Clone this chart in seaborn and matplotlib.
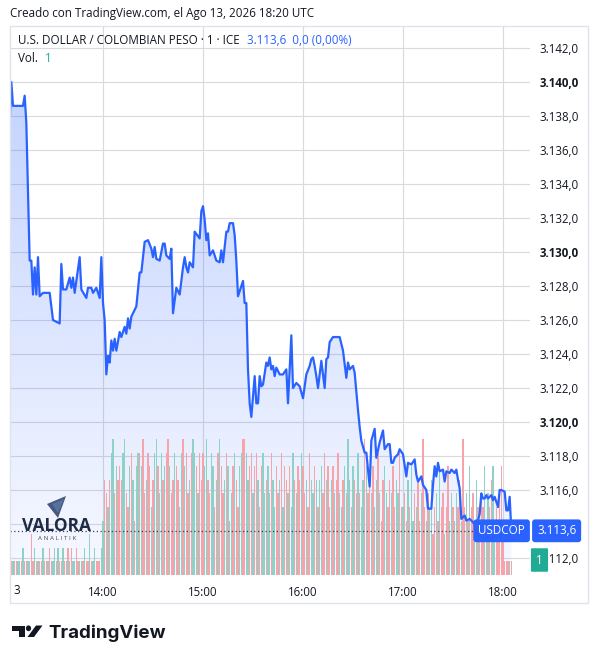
import numpy as np
import pandas as pd
import matplotlib
matplotlib.use("Agg")
import matplotlib.pyplot as plt
import matplotlib.transforms as mtransforms
from matplotlib.patches import Rectangle, Polygon, Circle, PathPatch
from matplotlib.colors import LinearSegmentedColormap
import seaborn as sns

# ---------------------------------------------------------
# data (1-minute USDCOP, 13 Aug)
# ---------------------------------------------------------
times_13 = ["13:04", "13:05", "13:06", "13:12", "13:13", "13:14", "13:16", "13:17", "13:18", "13:19",
            "13:20", "13:21", "13:22", "13:24", "13:28", "13:30", "13:34", "13:35", "13:36", "13:38",
            "13:40", "13:41", "13:42", "13:43", "13:46", "13:47", "13:50", "13:51", "13:53", "13:54",
            "13:56", "13:58", "13:59"]
price_13 = [3137.5, 3140.0, 3138.6, 3138.6, 3139.2, 3137.6, 3129.5, 3129.5, 3127.5, 3129.1,
            3127.5, 3129.7, 3127.4, 3127.6, 3127.6, 3126.0, 3125.8, 3129.3, 3127.8, 3127.8,
            3128.5, 3127.9, 3128.5, 3127.6, 3129.7, 3127.8, 3127.3, 3127.9, 3127.9, 3127.6,
            3127.9, 3127.3, 3129.7]

times_14 = ["14:00", "14:01", "14:02", "14:03", "14:04", "14:05", "14:06", "14:07", "14:08", "14:10",
            "14:11", "14:13", "14:14", "14:15", "14:16", "14:17", "14:19", "14:20", "14:22", "14:23",
            "14:25", "14:27", "14:29", "14:30", "14:31", "14:32", "14:34", "14:36", "14:37", "14:38",
            "14:40", "14:41", "14:42", "14:44", "14:46", "14:48", "14:49", "14:50", "14:51", "14:52",
            "14:54", "14:55", "14:58", "14:59"]
price_14 = [3127.0, 3126.0, 3122.8, 3123.9, 3123.5, 3124.8, 3124.2, 3124.9, 3124.2, 3125.3,
            3125.0, 3125.6, 3125.2, 3126.1, 3125.5, 3126.2, 3126.6, 3126.8, 3128.8, 3128.8,
            3130.6, 3130.7, 3130.2, 3129.7, 3130.3, 3129.6, 3129.5, 3130.5, 3130.5, 3129.8,
            3129.6, 3130.2, 3126.4, 3127.9, 3127.5, 3129.1, 3129.7, 3129.1, 3128.8, 3129.4,
            3129.1, 3131.2, 3130.8, 3132.4]

times_15 = ["15:00", "15:01", "15:02", "15:03", "15:04", "15:06", "15:08", "15:10", "15:11", "15:12",
            "15:14", "15:15", "15:16", "15:18", "15:19", "15:20", "15:21", "15:24", "15:25", "15:26",
            "15:27", "15:28", "15:29", "15:31", "15:32", "15:33", "15:34", "15:35", "15:36", "15:38",
            "15:39", "15:40", "15:41", "15:42", "15:43", "15:44", "15:46", "15:48", "15:50", "15:51",
            "15:53", "15:54", "15:56", "15:58"]
price_15 = [3132.7, 3131.9, 3130.7, 3131.1, 3129.8, 3130.1, 3129.5, 3129.4, 3130.1, 3129.4,
            3131.2, 3131.2, 3131.7, 3131.7, 3131.0, 3129.5, 3127.4, 3128.3, 3127.0, 3127.0,
            3123.1, 3121.1, 3120.3, 3122.7, 3121.1, 3121.1, 3122.7, 3122.1, 3122.2, 3123.5,
            3123.3, 3123.8, 3123.1, 3123.3, 3122.7, 3123.2, 3122.8, 3122.8, 3123.1, 3121.1,
            3125.1, 3122.0, 3122.3, 3122.1]

times_16 = ["16:00", "16:02", "16:04", "16:05", "16:06", "16:07", "16:08", "16:09", "16:11", "16:13",
            "16:14", "16:15", "16:16", "16:18", "16:20", "16:22", "16:24", "16:26", "16:27", "16:28",
            "16:30", "16:31", "16:32", "16:33", "16:34", "16:35", "16:37", "16:38", "16:40", "16:41",
            "16:43", "16:44", "16:46", "16:48", "16:49", "16:51", "16:52", "16:53", "16:54", "16:55",
            "16:57", "16:58"]
price_16 = [3121.4, 3122.8, 3123.3, 3123.7, 3123.8, 3123.3, 3122.7, 3122.0, 3123.6, 3122.0,
            3123.7, 3123.8, 3124.7, 3125.0, 3125.0, 3125.0, 3124.2, 3122.6, 3123.5, 3123.1,
            3123.3, 3122.9, 3121.8, 3120.7, 3119.7, 3118.9, 3118.2, 3118.2, 3116.2, 3118.9,
            3119.6, 3117.9, 3118.8, 3119.5, 3118.4, 3118.7, 3118.7, 3117.6, 3117.6, 3117.9,
            3118.1, 3118.4]

times_17 = ["17:00", "17:02", "17:03", "17:05", "17:07", "17:08", "17:09", "17:11", "17:12", "17:14",
            "17:15", "17:17", "17:18", "17:19", "17:20", "17:21", "17:22", "17:24", "17:25", "17:26",
            "17:28", "17:29", "17:31", "17:32", "17:33", "17:34", "17:35", "17:37", "17:38", "17:40",
            "17:42", "17:43", "17:44", "17:46", "17:47", "17:48", "17:49", "17:50", "17:51", "17:53",
            "17:54", "17:55", "17:57", "17:58", "17:59", "18:01", "18:02", "18:03", "18:04", "18:05"]
price_17 = [3118.1, 3116.8, 3117.6, 3117.5, 3117.8, 3116.9, 3116.5, 3116.8, 3116.3, 3116.0,
            3114.9, 3114.9, 3116.3, 3117.4, 3116.8, 3117.6, 3117.1, 3117.2, 3116.5, 3117.1,
            3117.0, 3117.2, 3117.0, 3117.2, 3116.6, 3116.1, 3114.3, 3114.5, 3114.2, 3114.3,
            3114.1, 3114.0, 3113.8, 3114.6, 3115.8, 3115.5, 3115.5, 3115.7, 3115.5, 3115.7,
            3115.4, 3115.6, 3115.0, 3116.0, 3116.0, 3115.9, 3114.8, 3114.8, 3115.6, 3113.6]

# volume per minute, 13:04 .. 18:05 ; u = up bar (teal), d = down bar (red)
vol_start = "13:04"
vol_13 = [1, 1, 1, 1, 1, 1, 1, 1, 2, 1, 1, 1, 1, 3, 1, 2, 1, 1, 1, 1,
          2, 1, 1, 1, 2, 1, 1, 2, 1, 2, 1, 1, 2, 1, 1, 2, 1, 2, 1, 1,
          2, 1, 1, 1, 1, 2, 1, 1, 3, 1, 1, 2, 1, 1, 1, 2]
vol_14 = [4, 7, 6, 5, 7, 9, 10, 6, 8, 7, 8, 7, 9, 10, 6, 5, 8, 9, 7, 4,
          8, 9, 9, 8, 10, 6, 7, 9, 8, 5, 7, 9, 10, 8, 6, 9, 7, 8, 9, 10,
          8, 6, 7, 9, 8, 7, 5, 9, 10, 8, 9, 6, 7, 9, 10, 9, 8, 6, 9, 7]
vol_15 = [9, 8, 10, 7, 6, 9, 8, 5, 7, 9, 10, 8, 6, 7, 9, 8, 4, 6, 8, 9,
          7, 5, 8, 9, 10, 10, 9, 7, 8, 9, 6, 8, 9, 7, 5, 8, 9, 6, 7, 8,
          6, 9, 7, 5, 8, 6, 7, 9, 5, 8, 7, 6, 8, 5, 9, 7, 6, 8, 7, 9]
vol_16 = [8, 6, 7, 5, 9, 7, 6, 8, 7, 5, 7, 8, 6, 9, 7, 8, 5, 7, 8, 6,
          7, 9, 6, 5, 7, 8, 6, 10, 7, 5, 8, 7, 6, 9, 6, 5, 7, 10, 8, 6,
          7, 6, 8, 5, 7, 9, 6, 4, 7, 8, 6, 5, 7, 6, 8, 5, 7, 6, 9, 5]
vol_17 = [5, 6, 4, 7, 5, 8, 4, 6, 5, 7, 4, 6, 10, 5, 4, 6, 5, 7, 3, 5,
          6, 4, 8, 5, 6, 3, 5, 8, 4, 6, 5, 4, 6, 5, 7, 4, 10, 5, 6, 4,
          8, 5, 6, 4, 7, 5, 3, 6, 5, 8, 4, 6, 5, 7, 8, 4, 5, 3, 6, 8,
          4, 1, 1, 1, 1, 1]
dir_13 = "ddudduudud" "duuddududd" "uddudduudu" "ddudududuu" "dduududdud" "uudddu"
dir_14 = "udduduudud" "dduuddudud" "uududduddu" "duuduududd" "uddudduudu" "dduduududd"
dir_15 = "duudduudud" "uddudududu" "dduudduudd" "uddudduudu" "uduuddudud" "duduududdu"
dir_16 = "ddudduudud" "uudduddudu" "dduududuud" "udduduudud" "duduududdu" "uddudduudd"
dir_17 = "udduduudud" "dudduduudd" "ududdudduu" "duudduddud" "udduududdu" "dudduudddd" "ddddud"

price_ticks = [3112, 3114, 3116, 3118, 3120, 3122, 3124, 3126, 3128, 3130, 3132, 3134, 3136, 3138, 3140, 3142]
hour_labels = ["14:00", "15:00", "16:00", "17:00", "18:00"]
last_price = 3113.6
last_vol = 1

# ---------------------------------------------------------
def to_min(t):
    h, m = t.split(":")
    return int(h) * 60 + int(m) - 13 * 60

df = pd.DataFrame({
    "minuto": [to_min(t) for t in times_13 + times_14 + times_15 + times_16 + times_17],
    "precio": price_13 + price_14 + price_15 + price_16 + price_17,
})
vols = vol_13 + vol_14 + vol_15 + vol_16 + vol_17
dirs = dir_13 + dir_14 + dir_15 + dir_16 + dir_17
df_vol = pd.DataFrame({
    "minuto": to_min(vol_start) + np.arange(len(vols)),
    "volumen": vols,
    "color": ["#8dd1c7" if d == "u" else "#f6a3a9" for d in dirs],
})

sns.set_theme(style="white")
plt.rcParams["font.family"] = ["Open Sans", "DejaVu Sans"]

W, H = 598, 664
def fx(px):
    return px / W
def fy(py):
    return 1 - py / H

fig = plt.figure(figsize=(W / 100, H / 100), dpi=100)
fig.patch.set_facecolor("white")

# marco del grafico
fig.add_artist(Rectangle((fx(10), fy(603)), fx(588) - fx(10), fy(26) - fy(603),
                         transform=fig.transFigure, fill=False, ec="#e0e3eb", lw=1.0))

ax = fig.add_axes([fx(10), fy(575), (530 - 10) / W, (575 - 26) / H])
axv = ax.twinx()
axl = ax.twinx()

x_lo, x_hi = 4.2, 316.2
y_lo, y_hi = 3111.0, 3143.3

# area con degradado bajo la linea
poly = ax.fill_between(df["minuto"], df["precio"], y_lo, facecolor="none", edgecolor="none")
clip = PathPatch(poly.get_paths()[0], transform=ax.transData, facecolor="none", edgecolor="none")
ax.add_patch(clip)
area_cmap = LinearSegmentedColormap.from_list(
    "area", [(41 / 255, 98 / 255, 1, 0.04), (41 / 255, 98 / 255, 1, 0.28)])
im = ax.imshow(np.linspace(0, 1, 256).reshape(-1, 1), cmap=area_cmap, origin="lower",
               extent=[x_lo, x_hi, y_lo, df["precio"].max()], aspect="auto", zorder=1)
im.set_clip_path(clip)

ax.set_xlim(x_lo, x_hi)
ax.set_ylim(y_lo, y_hi)
ax.set_xticks([60, 120, 180, 240, 300], hour_labels)
ax.set_yticks(price_ticks, [f"{v // 1000}.{v % 1000:03d},0" for v in price_ticks])
ax.yaxis.tick_right()
ax.grid(True, color="#d9dadf", lw=0.8)
ax.set_axisbelow(True)
ax.tick_params(axis="both", length=0, labelsize=8.3, labelcolor="#131722")
ax.tick_params(axis="x", pad=8)
ax.tick_params(axis="y", pad=7)
for lab in ax.get_yticklabels():
    if lab.get_text() in ("3.120,0", "3.130,0", "3.140,0"):
        lab.set_fontweight("bold")
for s in ax.spines.values():
    s.set_visible(False)

# volumen
axv.bar(df_vol["minuto"], df_vol["volumen"], width=0.62, color=df_vol["color"], linewidth=0)
axv.set_ylim(0, 40.4)
axv.set_xlim(x_lo, x_hi)
axv.axis("off")

# linea de precio
sns.lineplot(data=df, x="minuto", y="precio", ax=axl, color="#2962ff", linewidth=1.6)
axl.set_xlim(x_lo, x_hi)
axl.set_ylim(y_lo, y_hi)
axl.axis("off")

# ultimo precio: linea punteada y etiquetas
axl.axhline(last_price, color="#3b4257", lw=0.9, ls=(0, (1, 2)))
trans = mtransforms.blended_transform_factory(axl.transAxes, axl.transData)
box = dict(boxstyle="round,pad=0.42,rounding_size=0.25", fc="#2962ff", ec="none")
axl.text((525 - 10) / 520, last_price, "USDCOP", transform=trans, ha="right", va="center",
         fontsize=8.4, color="white", clip_on=False, zorder=10, bbox=box)
axl.text((537 - 10) / 520, last_price, "3.113,6", transform=trans, ha="left", va="center",
         fontsize=8.4, color="white", clip_on=False, zorder=10, bbox=box)
axl.text(fx(539.5), fy(560), str(last_vol), transform=fig.transFigure, ha="center", va="center",
         fontsize=8.4, color="white", zorder=10,
         bbox=dict(boxstyle="round,pad=0.45,rounding_size=0.1", fc="#22ab94", ec="none"))

# textos de cabecera
fig.text(fx(10), fy(14), "Creado con TradingView.com, el Ago 13, 2026 18:20 UTC",
         va="center", fontsize=8.4, color="#131722")
fig.text(fx(18), fy(41), "U.S. DOLLAR / COLOMBIAN PESO · 1 · ICE", va="center",
         fontsize=8.4, color="#131722")
fig.text(fx(247), fy(41), "3.113,6  0,0 (0,00%)", va="center", fontsize=8.4, color="#2962ff")
fig.text(fx(18), fy(59), "Vol.", va="center", fontsize=8.4, color="#131722")
fig.text(fx(45), fy(59), "1", va="center", fontsize=8.4, color="#22ab94")
fig.text(fx(13), fy(590), "3", va="center", fontsize=8.3, color="#131722")

# marca de agua Valora Analitik
fig.add_artist(Polygon([(fx(47), fy(504)), (fx(66), fy(496)), (fx(58), fy(518))],
                       closed=True, transform=fig.transFigure, fc="#34486f", ec="none", alpha=0.9))
fig.add_artist(Polygon([(fx(52), fy(504)), (fx(64), fy(499)), (fx(58), fy(513))],
                       closed=True, transform=fig.transFigure, fc="#5a78a8", ec="none", alpha=0.8))
fig.text(fx(57), fy(526), "VALORA", ha="center", va="center", fontsize=12.5,
         fontweight="bold", color="#1f2a44")
fig.text(fx(57.5), fy(538), "A N A L I T I K", ha="center", va="center", fontsize=4.5,
         color="#4a4f5c")

# logo TradingView
fig.add_artist(Polygon([(fx(12), fy(625.5)), (fx(24.5), fy(625.5)), (fx(24.5), fy(637)),
                        (fx(18.5), fy(637)), (fx(18.5), fy(631)), (fx(12), fy(631))],
                       closed=True, transform=fig.transFigure, fc="#131722", ec="none"))
fig.add_artist(Circle((fx(28.5), fy(628.3)), 2.6 / W, transform=fig.transFigure,
                      fc="#131722", ec="none"))
fig.add_artist(Polygon([(fx(27.5), fy(637)), (fx(34), fy(637)), (fx(42.5), fy(625.5)),
                        (fx(36), fy(625.5))],
                       closed=True, transform=fig.transFigure, fc="#131722", ec="none"))
fig.text(fx(48), fy(637.5), "TradingView", va="baseline", fontsize=13.5, fontweight="bold",
         color="#131722", family=["Inter", "DejaVu Sans"])

fig.savefig("out.png", dpi=100)
